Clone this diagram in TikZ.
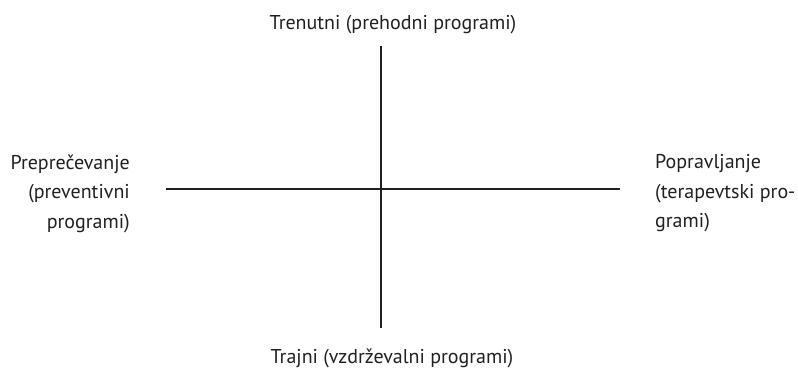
\documentclass[tikz,border=0pt]{standalone}
\usepackage{fontspec}
\setmainfont{PT Sans}
\definecolor{ink}{HTML}{231F20}
\begin{document}
\begin{tikzpicture}[x=1pt,y=-1pt,
  axis/.style={draw=ink,line width=2.6pt},
  lbl/.style={text=ink,inner sep=0pt,font=\fontsize{20}{29.5}\selectfont}]
\useasboundingbox (0,0) rectangle (798,369);
% axis end points
\coordinate (ytop) at (381,46);
\coordinate (ybot) at (381,328);
\coordinate (xl) at (166,188.8);
\coordinate (xr) at (620,188.8);
\draw[axis] (ytop) -- (ybot);
\draw[axis] (xl) -- (xr);
% axis labels
\node[lbl,anchor=base] (tl) at (393,30) {Trenutni (prehodni programi)};
\node[lbl,anchor=base] (bl) at (392,363) {Trajni (vzdrževalni programi)};
\node[lbl,anchor=north east,align=right] (ll) at (130,154.5)
  {Preprečevanje\\(preventivni\\programi)};
\node[lbl,anchor=north west,align=left] (rl) at (655,154.5)
  {Popravljanje\\(terapevtski pro-\\grami)};
\end{tikzpicture}
\end{document}
